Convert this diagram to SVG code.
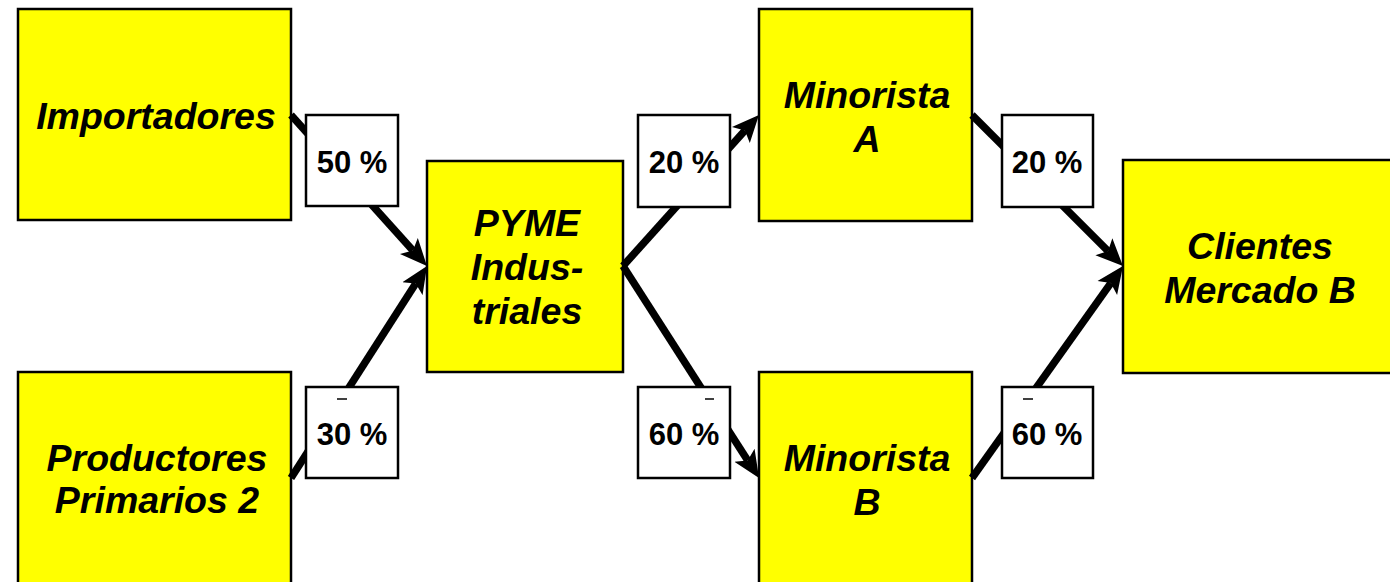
<svg xmlns="http://www.w3.org/2000/svg" width="1390" height="582" viewBox="0 0 1390 582">
<style>
.node{fill:#ffff00;stroke:#000;stroke-width:2.5}
.lbl{fill:#fff;stroke:#000;stroke-width:2.5}
.nt{font-family:"Liberation Sans",Arial,sans-serif;font-weight:bold;font-style:italic;font-size:37.5px;fill:#000;text-anchor:middle}
.pt{font-family:"Liberation Sans",Arial,sans-serif;font-weight:bold;font-size:31px;fill:#000;text-anchor:middle}
.con{fill:none;stroke:#000;stroke-width:7.5;marker-end:url(#ah)}
.dash{stroke:#000;stroke-width:1.5}
</style>
<defs>
<marker id="ah" viewBox="0 -13 30 26" markerWidth="30" markerHeight="26" refX="6" refY="0" orient="auto" markerUnits="userSpaceOnUse">
<path d="M0,-12 L27,0 L0,12 L6,0 z" fill="#000"/>
</marker>
</defs>
<rect width="1390" height="582" fill="#fff"/>
<g id="importadores"><rect class="node" x="18" y="9" width="273" height="211"/><text class="nt" x="156" y="129">Importadores</text></g>
<g id="productores"><rect class="node" x="18" y="372" width="273" height="220"/><text class="nt" x="157" y="471">Productores</text><text class="nt" x="157" y="513">Primarios 2</text></g>
<g id="pyme"><rect class="node" x="427" y="161" width="196" height="211"/><text class="nt" x="527" y="236">PYME</text><text class="nt" x="527" y="280">Indus-</text><text class="nt" x="527" y="324">triales</text></g>
<g id="minoristaA"><rect class="node" x="759" y="9" width="213" height="212"/><text class="nt" x="867" y="108">Minorista</text><text class="nt" x="867" y="152">A</text></g>
<g id="minoristaB"><rect class="node" x="759" y="372" width="213" height="220"/><text class="nt" x="867" y="471">Minorista</text><text class="nt" x="867" y="515">B</text></g>
<g id="clientes"><rect class="node" x="1123" y="160" width="280" height="213"/><text class="nt" x="1260" y="259">Clientes</text><text class="nt" x="1260" y="303">Mercado B</text></g>
<g id="connectors">
<path class="con" d="M291,115 L412.9,250.4"/>
<path class="con" d="M291,478 L415.7,283.6"/>
<path class="con" d="M623,266 L744.9,130.6"/>
<path class="con" d="M623,266 L747.7,460.4"/>
<path class="con" d="M972,115 L1108.1,251.1"/>
<path class="con" d="M972,478 L1110.8,283.1"/>
</g>
<g id="label50"><rect class="lbl" x="306" y="115" width="92" height="91"/><text class="pt" x="352" y="173">50 %</text></g>
<g id="label30"><rect class="lbl" x="306" y="387" width="92" height="91"/><line class="dash" x1="337" y1="399" x2="347" y2="399"/><text class="pt" x="352" y="445">30 %</text></g>
<g id="label20a"><rect class="lbl" x="638" y="115" width="92" height="92"/><text class="pt" x="684" y="173">20 %</text></g>
<g id="label60a"><rect class="lbl" x="638" y="387" width="92" height="91"/><line class="dash" x1="705" y1="399" x2="714" y2="399"/><text class="pt" x="684" y="445">60 %</text></g>
<g id="label20b"><rect class="lbl" x="1002" y="115" width="91" height="92"/><text class="pt" x="1047" y="173">20 %</text></g>
<g id="label60b"><rect class="lbl" x="1002" y="387" width="91" height="91"/><line class="dash" x1="1023" y1="399" x2="1033" y2="399"/><text class="pt" x="1047" y="445">60 %</text></g>
</svg>
